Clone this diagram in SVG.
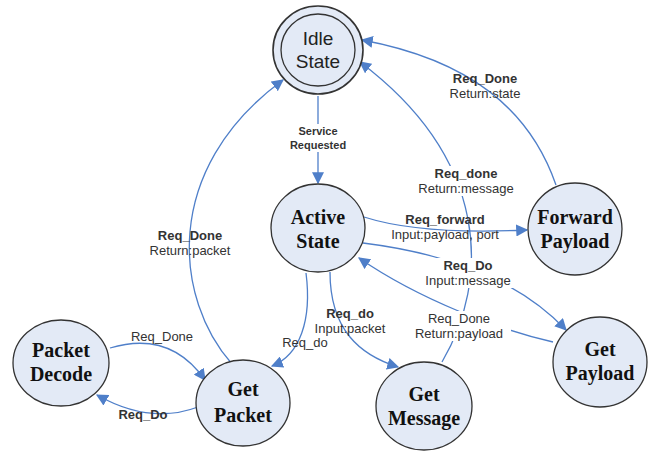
<svg xmlns="http://www.w3.org/2000/svg" width="658" height="451" viewBox="0 0 658 451">
<style>
.node{fill:#e3eaf6;stroke:#333;stroke-width:1.3}
.nt{font-family:"Liberation Serif",serif;font-weight:bold;font-size:20px;fill:#111;text-anchor:middle}
.it{font-family:"Liberation Sans",sans-serif;font-size:19px;fill:#222;text-anchor:middle}
.e{fill:none;stroke:#4f7fc9;stroke-width:1.3}
.l{font-family:"Liberation Sans",sans-serif;font-size:13px;fill:#333;text-anchor:middle}
.b{font-weight:bold}
.bg{fill:#fff}
</style>
<defs>
<marker id="ah" viewBox="0 0 10 10" refX="9" refY="5" markerWidth="12" markerHeight="12" markerUnits="userSpaceOnUse" orient="auto">
<path d="M0,0 L10,5 L0,10 z" fill="#4f7fc9"/>
</marker>
</defs>
<g id="connectors">
<path class="e" d="M318 96 L318 183" marker-end="url(#ah)"/>
<path class="e" d="M364 217 Q 420 235 527 230" marker-end="url(#ah)"/>
<path class="e" d="M556 185 C 530 110, 470 60, 362 40" marker-end="url(#ah)"/>
<path class="e" d="M442 362 C 490 280, 490 160, 360 62" marker-end="url(#ah)"/>
<path class="e" d="M232 364 C 175 300, 160 170, 283 80" marker-end="url(#ah)"/>
<path class="e" d="M363 243 Q 500 260 566 330" marker-end="url(#ah)"/>
<path class="e" d="M553 342 C 500 330, 420 300, 359 258" marker-end="url(#ah)"/>
<path class="e" d="M330 272 C 330 330, 360 355, 398 367" marker-end="url(#ah)"/>
<path class="e" d="M306 273 C 312 320, 300 355, 272 366" marker-end="url(#ah)"/>
<path class="e" d="M110 348 Q 170 330 205 380" marker-end="url(#ah)"/>
<path class="e" d="M198 407 Q 150 425 97 395" marker-end="url(#ah)"/>
</g>
<g id="labels">
<rect class="bg" x="284" y="124" width="68" height="28"/>
<text class="l b" style="font-size:11px" x="318" y="135">Service</text>
<text class="l b" style="font-size:11px" x="318" y="149">Requested</text>
<text class="l b" x="485" y="83">Req_Done</text>
<text class="l" x="485" y="98">Return:state</text>
<rect class="bg" x="414" y="166" width="104" height="30"/>
<text class="l b" x="466" y="178">Req_done</text>
<text class="l" x="466" y="193">Return:message</text>
<text class="l b" x="445" y="224">Req_forward</text>
<text class="l" x="445" y="239">Input:payload, port</text>
<rect class="bg" x="423" y="258" width="98" height="30"/>
<text class="l b" x="468" y="270">Req_Do</text>
<text class="l" x="468" y="285">Input:message</text>
<rect class="bg" x="409" y="311" width="102" height="30"/>
<text class="l" x="459" y="323">Req_Done</text>
<text class="l" x="459" y="338">Return:payload</text>
<text class="l b" x="350" y="318">Req_do</text>
<text class="l" x="350" y="333">Input:packet</text>
<text class="l" x="305" y="347">Req_do</text>
<text class="l b" x="190" y="240">Req_Done</text>
<text class="l" x="190" y="255">Return:packet</text>
<text class="l" x="162" y="341">Req_Done</text>
<text class="l b" x="143" y="419">Req_Do</text>
</g>
<g id="idle">
<ellipse class="node" cx="318" cy="50" rx="45" ry="44" style="stroke-width:1.6"/>
<ellipse class="node" cx="318" cy="50" rx="37" ry="36"/>
<text class="it" x="318" y="45">Idle</text>
<text class="it" x="318" y="68">State</text>
</g>
<g id="active">
<ellipse class="node" cx="318" cy="228" rx="47" ry="44"/>
<text class="nt" x="318" y="224">Active</text>
<text class="nt" x="318" y="248">State</text>
</g>
<g id="forward">
<ellipse class="node" cx="575" cy="229" rx="47" ry="46"/>
<text class="nt" x="575" y="224">Forward</text>
<text class="nt" x="575" y="248">Payload</text>
</g>
<g id="getpayload">
<ellipse class="node" cx="600" cy="362" rx="47" ry="45"/>
<text class="nt" x="600" y="356">Get</text>
<text class="nt" x="600" y="380">Payload</text>
</g>
<g id="getmessage">
<ellipse class="node" cx="424" cy="406" rx="48" ry="44"/>
<text class="nt" x="424" y="401">Get</text>
<text class="nt" x="424" y="425">Message</text>
</g>
<g id="getpacket">
<ellipse class="node" cx="243" cy="403" rx="47" ry="43"/>
<text class="nt" x="243" y="396">Get</text>
<text class="nt" x="243" y="422">Packet</text>
</g>
<g id="packetdecode">
<ellipse class="node" cx="61" cy="363" rx="48" ry="43"/>
<text class="nt" x="61" y="357">Packet</text>
<text class="nt" x="61" y="381">Decode</text>
</g>
</svg>
